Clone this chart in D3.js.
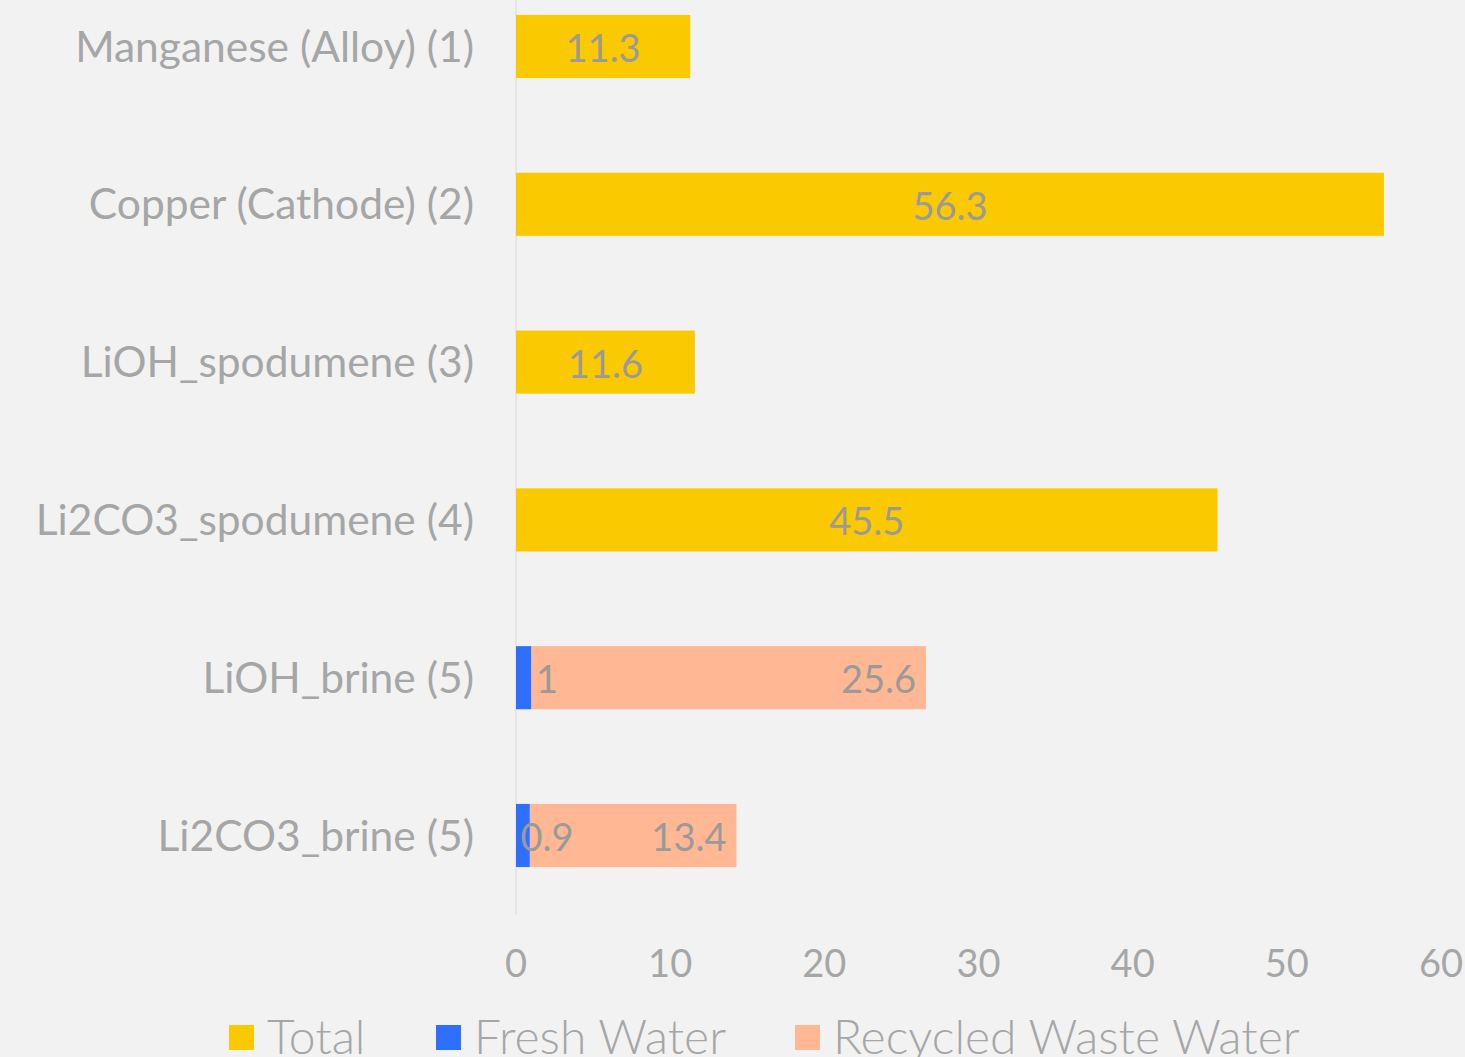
<!DOCTYPE html>
<html>
<head>
<meta charset="utf-8">
<script src="https://cdn.jsdelivr.net/npm/d3@7"></script>
<style>
  html, body { margin: 0; padding: 0; background: #f2f2f2; overflow: hidden; }
  text { font-family: Lato, "Open Sans", sans-serif; }
</style>
</head>
<body>
<div id="chart"></div>
<script>
'use strict';

const categories = [
  "Manganese (Alloy) (1)",
  "Copper (Cathode) (2)",
  "LiOH_spodumene (3)",
  "Li2CO3_spodumene (4)",
  "LiOH_brine (5)",
  "Li2CO3_brine (5)"
];
const total    = [11.3, 56.3, 11.6, 45.5, 0, 0];
const fresh    = [0, 0, 0, 0, 1, 0.9];
const recycled = [0, 0, 0, 0, 25.6, 13.4];
const xTicks   = [0, 10, 20, 30, 40, 50, 60];
const seriesNames = ["Total", "Fresh Water", "Recycled Waste Water"];
const colors = ["#fac900", "#2f6fff", "#ffb794"];

const W = 1465, H = 1057;
const svg = d3.select('#chart').append('svg')
  .attr('width', W).attr('height', H)
  .style('display', 'block');

svg.append('rect').attr('width', W).attr('height', H).style('fill', '#f2f2f2');

const x = d3.scaleLinear().domain([0, 60]).range([516, 1441]);
const y = d3.scaleBand().domain(categories)
  .range([-32.4, 914.4])
  .paddingInner(0.6).paddingOuter(0.3);

// vertical axis line
svg.append('line')
  .attr('x1', x(0)).attr('x2', x(0))
  .attr('y1', 0).attr('y2', 914)
  .style('stroke', '#e2e2e2').style('stroke-width', 1.5);

const rows = categories.map((c, i) => ({cat: c, vals: [total[i], fresh[i], recycled[i]]}));
const stacked = d3.stack().keys([0, 1, 2]).value((d, k) => d.vals[k])(rows);

const bars = svg.append('g');
stacked.forEach((s, k) => {
  bars.selectAll(null)
    .data(s.filter(d => d.data.vals[k] > 0))
    .enter()
    .append('rect')
    .attr('x', d => x(d[0]))
    .attr('y', d => y(d.data.cat))
    .attr('width', d => x(d[1]) - x(d[0]))
    .attr('height', y.bandwidth())
    .style('fill', colors[k]);
});

// data labels
const labels = svg.append('g')
  .style('fill', '#9a9a9a')
  .style('font-size', '38px');
stacked.forEach((s, k) => {
  labels.selectAll(null)
    .data(s.filter(d => d.data.vals[k] > 0))
    .enter()
    .append('text')
    .text(d => d.data.vals[k])
    .attr('x', d => {
      if (k === 0) return (x(d[0]) + x(d[1])) / 2;   // centered
      if (k === 1) return x(d[0]) + 31;              // fresh water, just right of base
      return x(d[1]) - 10;                           // recycled, inside end
    })
    .attr('y', d => y(d.data.cat) + y.bandwidth() / 2 + 15.5)
    .attr('text-anchor', k === 2 ? 'end' : 'middle');
});

// category labels
svg.append('g').selectAll(null)
  .data(categories)
  .enter()
  .append('text')
  .text(d => d)
  .attr('x', 474)
  .attr('y', d => y(d) + y.bandwidth() / 2 + 15)
  .attr('text-anchor', 'end')
  .style('fill', '#a6a6a6')
  .style('font-size', '42.5px');

// x axis tick labels
svg.append('g').selectAll(null)
  .data(xTicks)
  .enter()
  .append('text')
  .text(d => d)
  .attr('x', d => x(d))
  .attr('y', 977)
  .attr('text-anchor', 'middle')
  .style('fill', '#a6a6a6')
  .style('font-size', '38px');

// legend
const legendX = [229, 436, 795];
const legend = svg.append('g');
seriesNames.forEach((n, i) => {
  legend.append('rect')
    .attr('x', legendX[i]).attr('y', 1025)
    .attr('width', 25).attr('height', 25)
    .style('fill', colors[i]);
  legend.append('text')
    .text(n)
    .attr('x', legendX[i] + 38)
    .attr('y', 1054)
    .style('fill', '#a6a6a6')
    .style('font-size', '48px')
    .style('font-weight', 300);
});
</script>
</body>
</html>
